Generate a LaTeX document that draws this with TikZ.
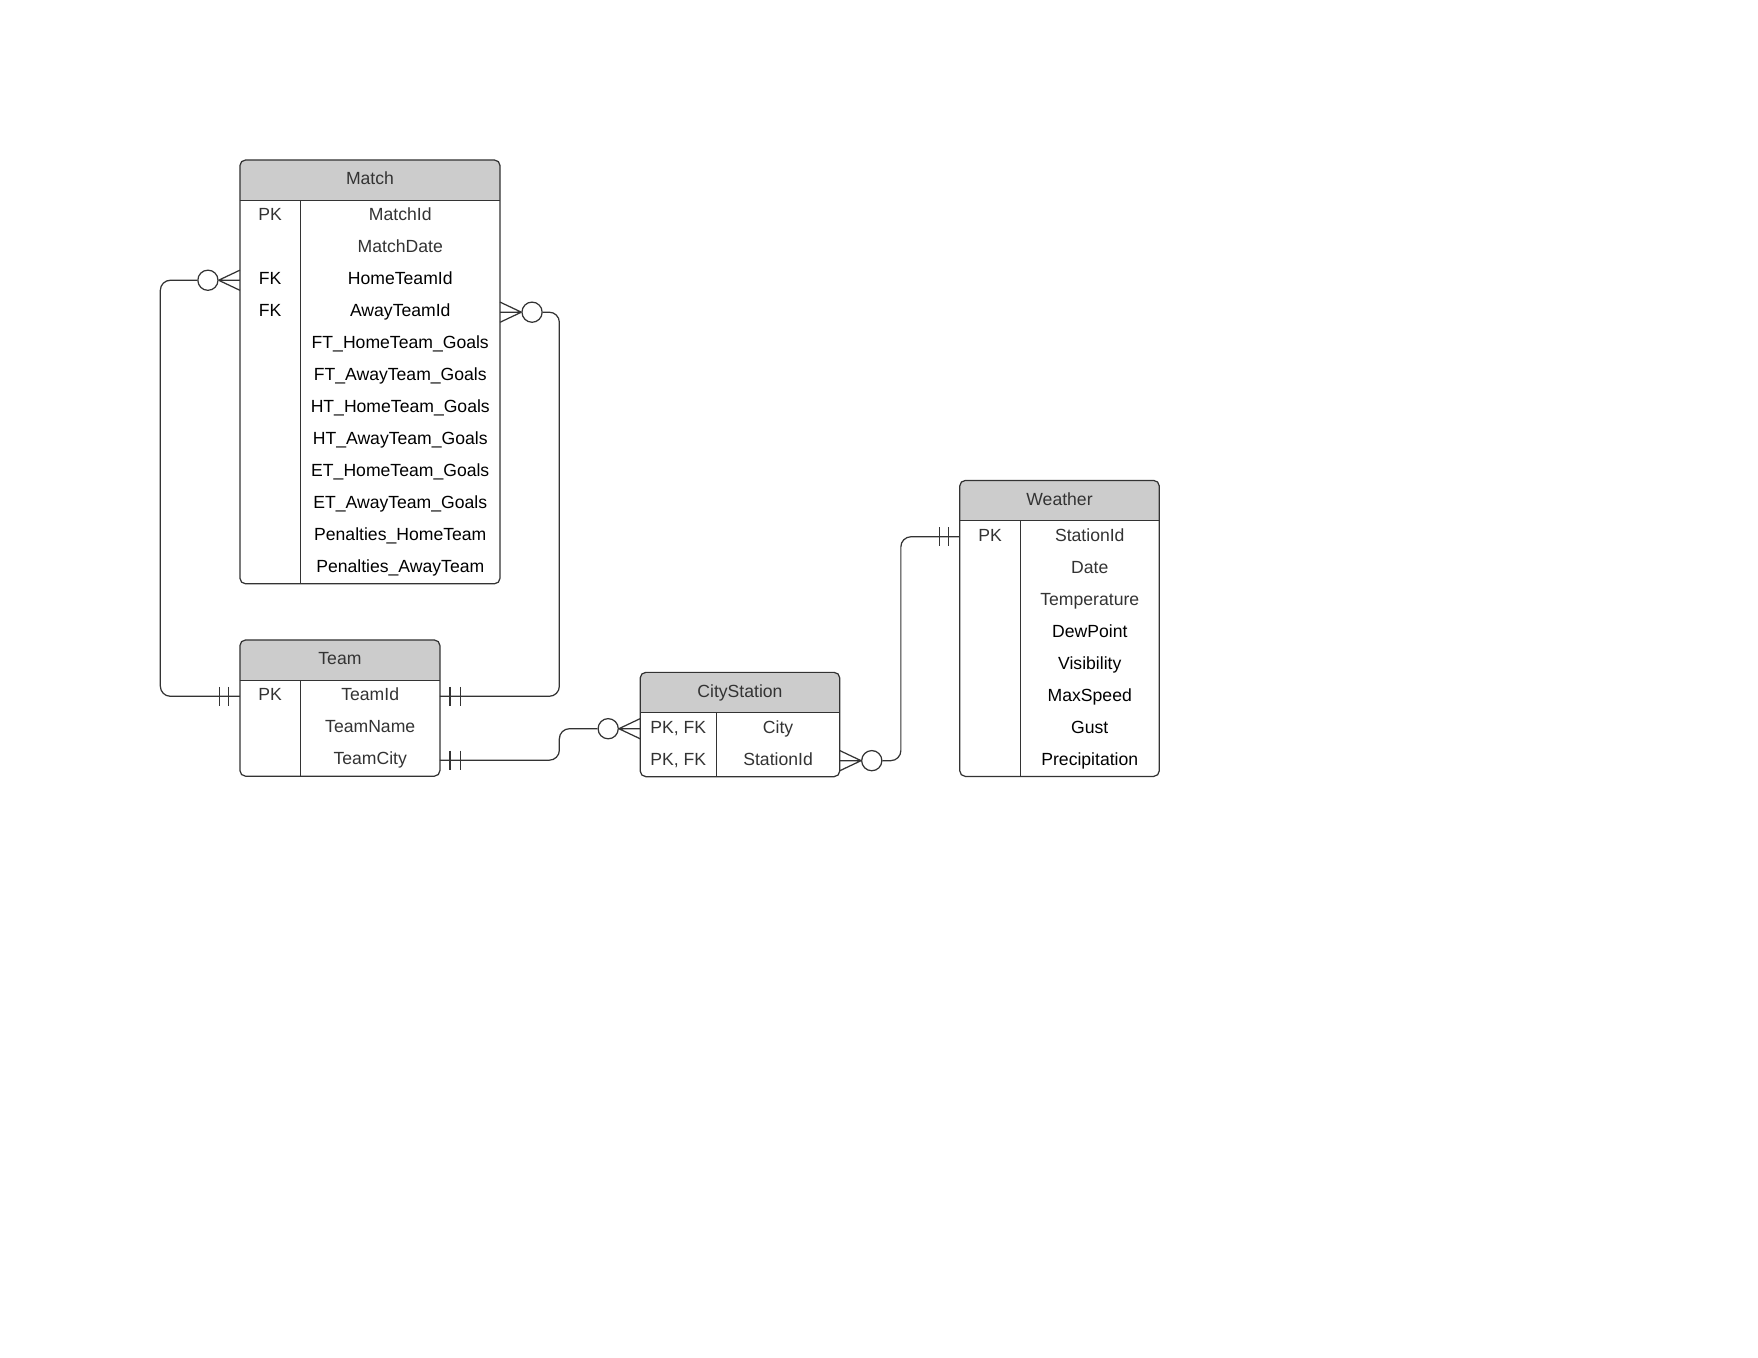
\documentclass[tikz,border=0pt]{standalone}
\usepackage{fontspec}
\setmainfont{Liberation Sans}
\usepackage{tikz}
\usetikzlibrary{positioning,backgrounds}
\definecolor{headgray}{RGB}{204,204,204}
\definecolor{linegray}{RGB}{51,51,51}
\definecolor{txtgray}{RGB}{51,51,51}
\tikzstyle{entity} = [rectangle, inner sep=0pt, outer sep=0pt, minimum height=36pt, text=txtgray, font=\fontsize{15.7pt}{18pt}\selectfont, text height=12pt, text depth=3.8pt]
\tikzstyle{attr} = [rectangle, inner sep=0pt, outer sep=0pt, minimum height=28.5pt, text=txtgray, font=\fontsize{15.7pt}{18pt}\selectfont, text height=12pt, text depth=3.8pt]
\tikzstyle{attrb} = [attr, text=black]
\tikzstyle{key} = [attr, minimum width=54pt]
\tikzstyle{keyb} = [key, text=black]
\tikzstyle{frame} = [draw=linegray, line width=1.1pt, rounded corners=5pt]
\tikzstyle{rel} = [draw=linegray, line width=1.1pt, rounded corners=9pt]
\tikzstyle{zero} = [circle, draw=linegray, line width=1.1pt, fill=white, minimum size=18pt, inner sep=0pt]

\begin{document}
\begin{tikzpicture}[x=1pt, y=-1pt]
\useasboundingbox (0,0) rectangle (1568,1211.2);

% tables =============================

% Match
\node[entity, minimum width=232pt] (match) at (330,160.7) {Match};
\node[attr, minimum width=178pt, below right=0pt and 54pt of match.south west] (matchid) {MatchId};
\node[attr, below=0pt of matchid] (matchdate) {MatchDate};
\node[attrb, below=0pt of matchdate] (homeid) {HomeTeamId};
\node[attrb, below=0pt of homeid] (awayid) {AwayTeamId};
\node[attrb, below=0pt of awayid] (fthome) {FT\_HomeTeam\_Goals};
\node[attrb, below=0pt of fthome] (ftaway) {FT\_AwayTeam\_Goals};
\node[attrb, below=0pt of ftaway] (hthome) {HT\_HomeTeam\_Goals};
\node[attrb, below=0pt of hthome] (htaway) {HT\_AwayTeam\_Goals};
\node[attrb, below=0pt of htaway] (ethome) {ET\_HomeTeam\_Goals};
\node[attrb, below=0pt of ethome] (etaway) {ET\_AwayTeam\_Goals};
\node[attrb, below=0pt of etaway] (penhome) {Penalties\_HomeTeam};
\node[attrb, below=0pt of penhome] (penaway) {Penalties\_AwayTeam};
\node[key, left=0pt of matchid] (matchpk) {PK};
\node[keyb, below=28.5pt of matchpk] (homefk) {FK};
\node[keyb, below=0pt of homefk] (awayfk) {FK};

% Team
\node[entity, minimum width=178.4pt] (team) at (303.2,588.8) {Team};
\node[attr, minimum width=124.4pt, below right=0pt and 54pt of team.south west] (teamid) {TeamId};
\node[attr, below=0pt of teamid] (teamname) {TeamName};
\node[attr, below=0pt of teamname] (teamcity) {TeamCity};
\node[key, left=0pt of teamid] (teampk) {PK};

% CityStation
\node[entity, minimum width=178pt] (citystation) at (660,617.7) {CityStation};
\node[attr, minimum width=110pt, below right=0pt and 68pt of citystation.south west] (cscity) {City};
\node[attr, below=0pt of cscity] (csstation) {StationId};
\node[key, minimum width=68pt, left=0pt of cscity] (cspk1) {PK, FK};
\node[key, minimum width=68pt, below=0pt of cspk1] (cspk2) {PK, FK};

% Weather
\node[entity, minimum width=178pt] (weather) at (945,446.5) {Weather};
\node[attr, minimum width=124pt, below right=0pt and 54pt of weather.south west] (stationid) {StationId};
\node[attr, below=0pt of stationid] (wdate) {Date};
\node[attr, below=0pt of wdate] (temperature) {Temperature};
\node[attrb, below=0pt of temperature] (dewpoint) {DewPoint};
\node[attrb, below=0pt of dewpoint] (visibility) {Visibility};
\node[attrb, below=0pt of visibility] (maxspeed) {MaxSpeed};
\node[attrb, below=0pt of maxspeed] (gust) {Gust};
\node[attrb, below=0pt of gust] (precipitation) {Precipitation};
\node[key, left=0pt of stationid] (wpk) {PK};

% header fills
\begin{scope}[on background layer]
\fill[white] (0,0) rectangle (1568,1211.2);
\fill[headgray] (match.south west) [rounded corners=5pt] |- (match.north) -| (match.east) [sharp corners] -- (match.south east) -- cycle;
\fill[headgray] (team.south west) [rounded corners=5pt] |- (team.north) -| (team.east) [sharp corners] -- (team.south east) -- cycle;
\fill[headgray] (citystation.south west) [rounded corners=5pt] |- (citystation.north) -| (citystation.east) [sharp corners] -- (citystation.south east) -- cycle;
\fill[headgray] (weather.south west) [rounded corners=5pt] |- (weather.north) -| (weather.east) [sharp corners] -- (weather.south east) -- cycle;
\end{scope}

% frames
\path[frame] (match.north west) rectangle (match.east |- penaway.south);
\path[frame] (match.south west) -- (match.south east);
\path[frame] (matchpk.north east) -- (matchpk.east |- penaway.south);
\path[frame] (team.north west) rectangle (team.east |- teamcity.south);
\path[frame] (team.south west) -- (team.south east);
\path[frame] (teampk.north east) -- (teampk.east |- teamcity.south);
\path[frame] (citystation.north west) rectangle (citystation.east |- csstation.south);
\path[frame] (citystation.south west) -- (citystation.south east);
\path[frame] (cspk1.north east) -- (cspk1.east |- csstation.south);
\path[frame] (weather.north west) rectangle (weather.east |- precipitation.south);
\path[frame] (weather.south west) -- (weather.south east);
\path[frame] (wpk.north east) -- (wpk.east |- precipitation.south);

% relations =============================

\coordinate (awayend) at (matchid.east |- awayid);
\coordinate (teamcityend) at (teamid.east |- teamcity);
\coordinate (csstationend) at (cscity.east |- csstation);

\node[zero, left=19pt of homefk.west] (homecirc) {};
\node[zero, right=19pt of awayend] (awaycirc) {};
\node[zero, left=19pt of cspk1.west] (citycirc) {};
\node[zero, right=19pt of csstationend] (stationcirc) {};

%edges
\path[rel] (teampk.west) -- ++(-71,0) |- (homecirc.west);
\path[rel] (teamid.east) -- ++(106.5,0) |- (awaycirc.east);
\path[rel] (teamcityend) -- ++(106.5,0) |- (citycirc.west);
\path[rel] (stationcirc.east) -- ++(16.4,0) |- (wpk.west);

% crow's feet
\path[rel] (homecirc.east) -- ([yshift=9pt]homefk.west) (homecirc.east) -- (homefk.west) (homecirc.east) -- ([yshift=-9pt]homefk.west);
\path[rel] (awaycirc.west) -- ([yshift=9pt]awayend) (awaycirc.west) -- (awayend) (awaycirc.west) -- ([yshift=-9pt]awayend);
\path[rel] (citycirc.east) -- ([yshift=9pt]cspk1.west) (citycirc.east) -- (cspk1.west) (citycirc.east) -- ([yshift=-9pt]cspk1.west);
\path[rel] (stationcirc.west) -- ([yshift=9pt]csstationend) (stationcirc.west) -- (csstationend) (stationcirc.west) -- ([yshift=-9pt]csstationend);

% bars
\path[rel] ([xshift=-10pt,yshift=8.5pt]teampk.west) -- ([xshift=-10pt,yshift=-8.5pt]teampk.west);
\path[rel] ([xshift=-18pt,yshift=8.5pt]teampk.west) -- ([xshift=-18pt,yshift=-8.5pt]teampk.west);
\path[rel] ([xshift=9pt,yshift=8.5pt]teamid.east) -- ([xshift=9pt,yshift=-8.5pt]teamid.east);
\path[rel] ([xshift=18pt,yshift=8.5pt]teamid.east) -- ([xshift=18pt,yshift=-8.5pt]teamid.east);
\path[rel] ([xshift=9pt,yshift=8.5pt]teamcityend) -- ([xshift=9pt,yshift=-8.5pt]teamcityend);
\path[rel] ([xshift=18pt,yshift=8.5pt]teamcityend) -- ([xshift=18pt,yshift=-8.5pt]teamcityend);
\path[rel] ([xshift=-10pt,yshift=8.5pt]wpk.west) -- ([xshift=-10pt,yshift=-8.5pt]wpk.west);
\path[rel] ([xshift=-18pt,yshift=8.5pt]wpk.west) -- ([xshift=-18pt,yshift=-8.5pt]wpk.west);

\end{tikzpicture}
\end{document}
